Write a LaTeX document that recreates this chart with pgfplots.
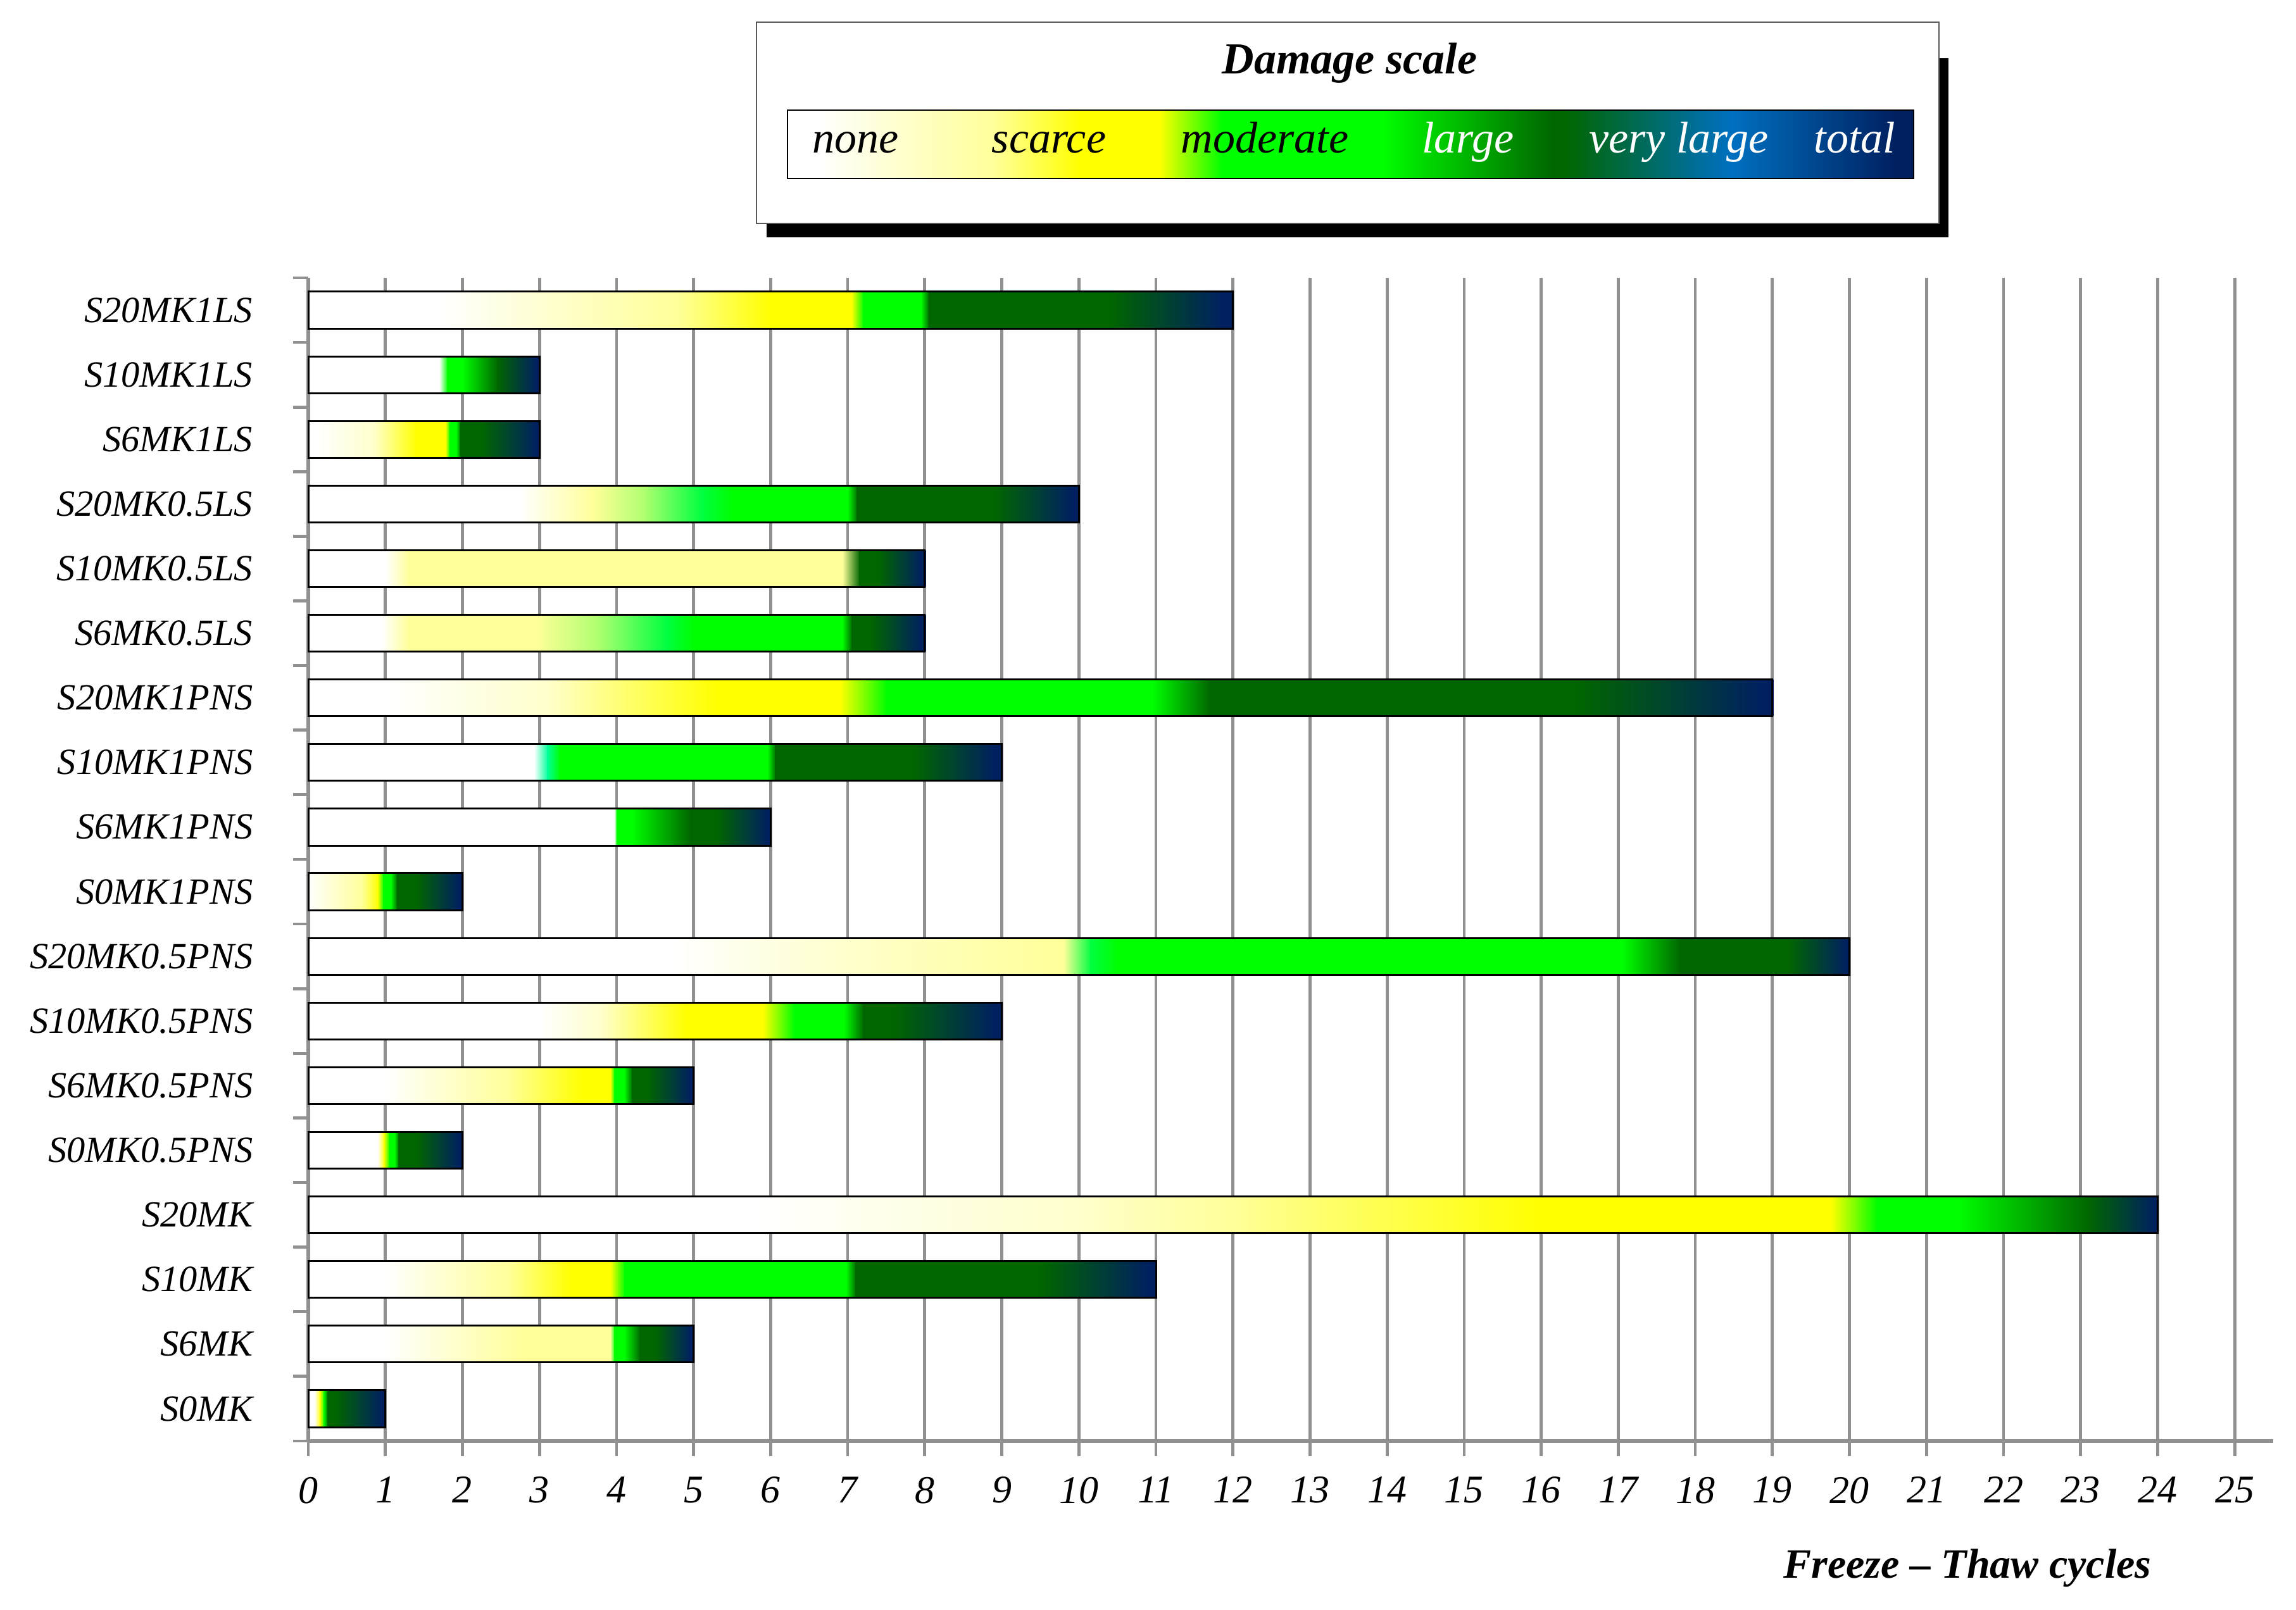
\documentclass[border=0pt]{standalone}
\usepackage{fontspec}
\setmainfont{Liberation Serif}
\usepackage{pgfplots}
\pgfplotsset{compat=1.18}

\definecolor{dW}{HTML}{FFFFFF}
\definecolor{dLY}{HTML}{FFFFCC}
\definecolor{dPY}{HTML}{FFFF99}
\definecolor{dY}{HTML}{FFFF00}
\definecolor{dG}{HTML}{00FF00}
\definecolor{dGm}{HTML}{00FF40}
\definecolor{dLG}{HTML}{B0FF70}
\definecolor{dMint}{HTML}{00FF99}
\definecolor{dDG}{HTML}{006600}
\definecolor{dNV}{HTML}{002060}
\definecolor{dBL}{HTML}{0070C0}
\definecolor{gridgray}{HTML}{909090}

\pgfdeclarehorizontalshading{damage}{100bp}{color(0bp)=(dW); color(25bp)=(dW); color(26.3bp)=(dW); color(30.1bp)=(dLY); color(34.2bp)=(dPY); color(38bp)=(dY); color(41.5bp)=(dY); color(44.3bp)=(dG); color(51.4bp)=(dG); color(59bp)=(dDG); color(59.5bp)=(dDG); color(66.9bp)=(dBL); color(74.2bp)=(dNV); color(75bp)=(dNV); color(100bp)=(dNV)}

% one gradient segment of a bar: row, x from, x to, colour at start, colour at end
\newcommand\seg[5]{%
  \pgfmathsetmacro\segLo{#1-0.285}%
  \pgfmathsetmacro\segHi{#1+0.285}%
  \pgfmathsetmacro\segR{#3+0.012}%
  \edef\segdo{\noexpand\addplot[forget plot,draw=none,mark=none,left color=#4,right color=#5] coordinates {(#2,\segLo) (\segR,\segLo) (\segR,\segHi) (#2,\segHi)};}%
  \segdo}

\begin{document}
\begin{tikzpicture}
\useasboundingbox (0,0) rectangle (906.75pt,636pt);
\begin{axis}[
  at={(121.75pt,66.75pt)}, anchor=south west,
  scale only axis, width=776pt, height=459.5pt,
  xmin=0, xmax=25.5, ymin=-0.5, ymax=17.5,
  clip=false,
  axis lines*=left,
  axis line style={draw=gridgray, line width=1.4pt},
  tick align=outside,
  major tick length=6pt,
  tick style={draw=gridgray, line width=1.2pt},
  xtick={0,...,25},
  xmajorgrids,
  grid style={draw=gridgray, line width=1.2pt},
  ytick={-0.5,0.5,...,17.5},
  yticklabels={},
  extra y ticks={0,...,17},
  extra y tick labels={S0MK,S6MK,S10MK,S20MK,S0MK0.5PNS,S6MK0.5PNS,S10MK0.5PNS,S20MK0.5PNS,S0MK1PNS,S6MK1PNS,S10MK1PNS,S20MK1PNS,S6MK0.5LS,S10MK0.5LS,S20MK0.5LS,S6MK1LS,S10MK1LS,S20MK1LS},
  extra y tick style={major tick length=0pt, tick style={draw=none},
    yticklabel style={font=\itshape\fontsize{14.6}{15}\selectfont, anchor=east, inner sep=0pt, xshift=-21.75pt}},
  xticklabel style={font=\itshape\fontsize{15.5}{16}\selectfont, anchor=north, inner sep=0pt, yshift=-8pt},
  /pgf/number format/assume math mode=true,
  no markers,
]
% S20MK1LS
\seg{17}{0}{1.7}{dW}{dW}
\seg{17}{1.7}{3.2}{dW}{dLY}
\seg{17}{3.2}{4.8}{dLY}{dPY}
\seg{17}{4.8}{6.0}{dPY}{dY}
\seg{17}{6.0}{7.05}{dY}{dY}
\seg{17}{7.05}{7.2}{dY}{dG}
\seg{17}{7.2}{7.95}{dG}{dG}
\seg{17}{7.95}{8.05}{dG}{dDG}
\seg{17}{8.05}{10.4}{dDG}{dDG}
\seg{17}{10.4}{11.85}{dDG}{dNV}
\seg{17}{11.85}{12}{dNV}{dNV}
% S10MK1LS
\seg{16}{0}{1.7}{dW}{dW}
\seg{16}{1.7}{1.8}{dW}{dG}
\seg{16}{1.8}{2.0}{dG}{dG}
\seg{16}{2.0}{2.45}{dG}{dDG}
\seg{16}{2.45}{2.95}{dDG}{dNV}
\seg{16}{2.95}{3}{dNV}{dNV}
% S6MK1LS
\seg{15}{0}{0.1}{dW}{dW}
\seg{15}{0.1}{0.85}{dW}{dLY}
\seg{15}{0.85}{1.4}{dLY}{dY}
\seg{15}{1.4}{1.78}{dY}{dY}
\seg{15}{1.78}{1.83}{dY}{dG}
\seg{15}{1.83}{1.92}{dG}{dG}
\seg{15}{1.92}{1.97}{dG}{dDG}
\seg{15}{1.97}{2.25}{dDG}{dDG}
\seg{15}{2.25}{2.95}{dDG}{dNV}
\seg{15}{2.95}{3}{dNV}{dNV}
% S20MK0.5LS
\seg{14}{0}{2.75}{dW}{dW}
\seg{14}{2.75}{3.7}{dW}{dPY}
\seg{14}{3.7}{4.35}{dPY}{dLG}
\seg{14}{4.35}{5.1}{dLG}{dGm}
\seg{14}{5.1}{5.5}{dGm}{dG}
\seg{14}{5.5}{7.0}{dG}{dG}
\seg{14}{7.0}{7.12}{dG}{dDG}
\seg{14}{7.12}{8.9}{dDG}{dDG}
\seg{14}{8.9}{9.9}{dDG}{dNV}
\seg{14}{9.9}{10}{dNV}{dNV}
% S10MK0.5LS
\seg{13}{0}{1.0}{dW}{dW}
\seg{13}{1.0}{1.3}{dW}{dPY}
\seg{13}{1.3}{6.93}{dPY}{dPY}
\seg{13}{6.93}{7.15}{dPY}{dDG}
\seg{13}{7.15}{7.4}{dDG}{dDG}
\seg{13}{7.4}{7.95}{dDG}{dNV}
\seg{13}{7.95}{8}{dNV}{dNV}
% S6MK0.5LS
\seg{12}{0}{0.95}{dW}{dW}
\seg{12}{0.95}{1.3}{dW}{dPY}
\seg{12}{1.3}{2.95}{dPY}{dPY}
\seg{12}{2.95}{3.75}{dPY}{dLG}
\seg{12}{3.75}{4.65}{dLG}{dGm}
\seg{12}{4.65}{5.0}{dGm}{dG}
\seg{12}{5.0}{6.93}{dG}{dG}
\seg{12}{6.93}{7.05}{dG}{dDG}
\seg{12}{7.05}{7.3}{dDG}{dDG}
\seg{12}{7.3}{7.95}{dDG}{dNV}
\seg{12}{7.95}{8}{dNV}{dNV}
% S20MK1PNS
\seg{11}{0}{1.0}{dW}{dW}
\seg{11}{1.0}{3.1}{dW}{dLY}
\seg{11}{3.1}{5.3}{dLY}{dY}
\seg{11}{5.3}{6.9}{dY}{dY}
\seg{11}{6.9}{7.5}{dY}{dG}
\seg{11}{7.5}{10.95}{dG}{dG}
\seg{11}{10.95}{11.7}{dG}{dDG}
\seg{11}{11.7}{16.45}{dDG}{dDG}
\seg{11}{16.45}{18.85}{dDG}{dNV}
\seg{11}{18.85}{19}{dNV}{dNV}
% S10MK1PNS
\seg{10}{0}{2.93}{dW}{dW}
\seg{10}{2.93}{3.1}{dW}{dMint}
\seg{10}{3.1}{3.26}{dMint}{dG}
\seg{10}{3.26}{5.96}{dG}{dG}
\seg{10}{5.96}{6.06}{dG}{dDG}
\seg{10}{6.06}{7.85}{dDG}{dDG}
\seg{10}{7.85}{8.9}{dDG}{dNV}
\seg{10}{8.9}{9}{dNV}{dNV}
% S6MK1PNS
\seg{9}{0}{3.97}{dW}{dW}
\seg{9}{3.97}{4.0}{dW}{dG}
\seg{9}{4.0}{4.2}{dG}{dG}
\seg{9}{4.2}{4.95}{dG}{dDG}
\seg{9}{4.95}{5.3}{dDG}{dDG}
\seg{9}{5.3}{5.95}{dDG}{dNV}
\seg{9}{5.95}{6}{dNV}{dNV}
% S0MK1PNS
\seg{8}{0}{0.7}{dW}{dPY}
\seg{8}{0.7}{0.9}{dPY}{dY}
\seg{8}{0.9}{0.97}{dY}{dG}
\seg{8}{0.97}{1.07}{dG}{dG}
\seg{8}{1.07}{1.15}{dG}{dDG}
\seg{8}{1.15}{1.4}{dDG}{dDG}
\seg{8}{1.4}{1.95}{dDG}{dNV}
\seg{8}{1.95}{2}{dNV}{dNV}
% S20MK0.5PNS
\seg{7}{0}{4.7}{dW}{dW}
\seg{7}{4.7}{7.0}{dW}{dLY}
\seg{7}{7.0}{9.8}{dLY}{dPY}
\seg{7}{9.8}{10.15}{dPY}{dGm}
\seg{7}{10.15}{10.5}{dGm}{dG}
\seg{7}{10.5}{17.05}{dG}{dG}
\seg{7}{17.05}{17.8}{dG}{dDG}
\seg{7}{17.8}{19.2}{dDG}{dDG}
\seg{7}{19.2}{19.95}{dDG}{dNV}
\seg{7}{19.95}{20}{dNV}{dNV}
% S10MK0.5PNS
\seg{6}{0}{3.0}{dW}{dW}
\seg{6}{3.0}{3.8}{dW}{dLY}
\seg{6}{3.8}{4.9}{dLY}{dY}
\seg{6}{4.9}{5.9}{dY}{dY}
\seg{6}{5.9}{6.3}{dY}{dG}
\seg{6}{6.3}{6.95}{dG}{dG}
\seg{6}{6.95}{7.2}{dG}{dDG}
\seg{6}{7.2}{7.6}{dDG}{dDG}
\seg{6}{7.6}{8.9}{dDG}{dNV}
\seg{6}{8.9}{9}{dNV}{dNV}
% S6MK0.5PNS
\seg{5}{0}{1.0}{dW}{dW}
\seg{5}{1.0}{2.6}{dW}{dPY}
\seg{5}{2.6}{3.55}{dPY}{dY}
\seg{5}{3.55}{3.92}{dY}{dY}
\seg{5}{3.92}{3.97}{dY}{dG}
\seg{5}{3.97}{4.1}{dG}{dG}
\seg{5}{4.1}{4.2}{dG}{dDG}
\seg{5}{4.2}{4.4}{dDG}{dDG}
\seg{5}{4.4}{4.95}{dDG}{dNV}
\seg{5}{4.95}{5}{dNV}{dNV}
% S0MK0.5PNS
\seg{4}{0}{0.9}{dW}{dW}
\seg{4}{0.9}{0.98}{dW}{dY}
\seg{4}{0.98}{1.05}{dY}{dG}
\seg{4}{1.05}{1.12}{dG}{dG}
\seg{4}{1.12}{1.17}{dG}{dDG}
\seg{4}{1.17}{1.4}{dDG}{dDG}
\seg{4}{1.4}{1.95}{dDG}{dNV}
\seg{4}{1.95}{2}{dNV}{dNV}
% S20MK
\seg{3}{0}{5.8}{dW}{dW}
\seg{3}{5.8}{10}{dW}{dLY}
\seg{3}{10}{12}{dLY}{dPY}
\seg{3}{12}{16}{dPY}{dY}
\seg{3}{16}{19.76}{dY}{dY}
\seg{3}{19.76}{20.35}{dY}{dG}
\seg{3}{20.35}{21.4}{dG}{dG}
\seg{3}{21.4}{23.1}{dG}{dDG}
\seg{3}{23.1}{23.95}{dDG}{dNV}
\seg{3}{23.95}{24}{dNV}{dNV}
% S10MK
\seg{2}{0}{1.0}{dW}{dW}
\seg{2}{1.0}{2.6}{dW}{dPY}
\seg{2}{2.6}{3.4}{dPY}{dY}
\seg{2}{3.4}{3.92}{dY}{dY}
\seg{2}{3.92}{4.1}{dY}{dG}
\seg{2}{4.1}{6.98}{dG}{dG}
\seg{2}{6.98}{7.1}{dG}{dDG}
\seg{2}{7.1}{9.5}{dDG}{dDG}
\seg{2}{9.5}{10.9}{dDG}{dNV}
\seg{2}{10.9}{11}{dNV}{dNV}
% S6MK
\seg{1}{0}{1.0}{dW}{dW}
\seg{1}{1.0}{2.8}{dW}{dPY}
\seg{1}{2.8}{3.92}{dPY}{dPY}
\seg{1}{3.92}{3.97}{dPY}{dG}
\seg{1}{3.97}{4.1}{dG}{dG}
\seg{1}{4.1}{4.3}{dG}{dDG}
\seg{1}{4.3}{4.5}{dDG}{dDG}
\seg{1}{4.5}{4.95}{dDG}{dNV}
\seg{1}{4.95}{5}{dNV}{dNV}
% S0MK
\seg{0}{0}{0.08}{dW}{dW}
\seg{0}{0.08}{0.15}{dW}{dY}
\seg{0}{0.15}{0.2}{dY}{dG}
\seg{0}{0.2}{0.25}{dG}{dDG}
\seg{0}{0.25}{0.35}{dDG}{dDG}
\seg{0}{0.35}{0.95}{dDG}{dNV}
\seg{0}{0.95}{1}{dNV}{dNV}
% bar outlines: total freeze-thaw cycles
\addplot[xbar, bar width=0.57, draw=black, fill=none, line width=0.75pt, forget plot]
  coordinates {(1,0) (5,1) (11,2) (24,3) (2,4) (5,5) (9,6) (20,7) (2,8) (6,9) (9,10) (19,11) (8,12) (8,13) (10,14) (3,15) (3,16) (12,17)};
\end{axis}

\begin{scope}[x=0.25pt,y=-0.25pt,shift={(0pt,636pt)}]
  % legend
  \fill[black] (1211,92) rectangle (3078,375);
  \filldraw[fill=white, draw=gray!70!black, line width=0.5pt] (1195,35) rectangle (3063,353);
  \node[anchor=base, inner sep=0pt, font=\bfseries\itshape\fontsize{17.5}{18}\selectfont] at (2132,117) {Damage scale};
  \shade[shading=damage] (1244,174) rectangle (3023,282);
  \draw[black, line width=0.7pt] (1244,174) rectangle (3023,282);
  \begin{scope}[every node/.style={anchor=base, inner sep=0pt, font=\itshape\fontsize{17.5}{18}\selectfont}]
    \node[black] at (1352,242) {none};
    \node[black] at (1657,242) {scarce};
    \node[black] at (1998,242) {moderate};
    \node[white] at (2319,242) {large};
    \node[white] at (2652,242) {very large};
    \node[white] at (2930,242) {total};
  \end{scope}
  % axis title
  \node[anchor=base, inner sep=0pt, font=\bfseries\itshape\fontsize{16.5}{17}\selectfont] at (3108,2494) {Freeze – Thaw cycles};
\end{scope}
\end{tikzpicture}
\end{document}
